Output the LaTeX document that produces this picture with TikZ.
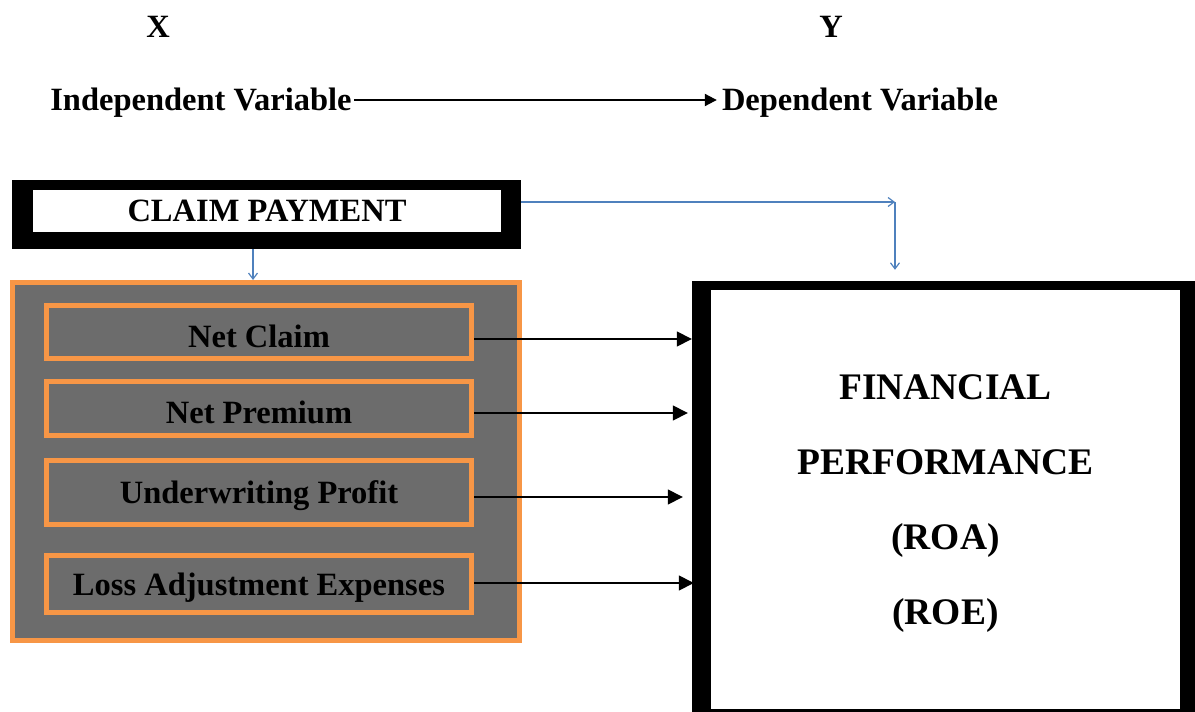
\documentclass[tikz,border=0pt]{standalone}
\usepackage{fontspec}
\setmainfont{Liberation Serif}
\usetikzlibrary{arrows.meta}
\usetikzlibrary{positioning}

\definecolor{boxgray}{RGB}{108,108,108}
\definecolor{boxorange}{RGB}{247,150,70}
\definecolor{linkblue}{RGB}{79,129,189}

\tikzset{
	lbl/.style={font=\fontsize{32.5}{32.5}\selectfont\bfseries, inner sep=0pt, text height=21.5pt, text depth=0pt},
	varbox/.style={lbl, draw=boxorange, line width=5pt, fill=boxgray, minimum width=425pt},
	blackbox/.style={fill=black, inner sep=0pt},
	whitebox/.style={fill=white, inner sep=0pt},
	blkarrow/.style={-{Triangle[length=15pt,width=15pt]}, line width=1.5pt},
	bluearrow/.style={-{Straight Barb[length=6pt,width=9pt]}, line width=1.2pt, linkblue}
}

\begin{document}
\begin{tikzpicture}[x=1pt, y=-1pt]
	\clip (0,0) rectangle (1195,712);
	
	%top labels
	\node[lbl] (xlbl) at (158,27) {X};
	\node[lbl] (ylbl) at (831,27) {Y};
	\node[lbl] (indep) at (201,100) {Independent Variable};
	\node[lbl] (dep) at (860,100) {Dependent Variable};
	\draw[-{Triangle[length=12pt,width=12pt]}, line width=2pt, shorten <=2pt, shorten >=5pt] (indep) -- (dep);
	
	%claim payment box
	\node[blackbox, minimum width=509pt, minimum height=69pt] (claim) at (266.5,214.5) {};
	\node[whitebox, lbl, minimum width=468pt, minimum height=42pt] (claimtxt) at (267,211) {CLAIM PAYMENT};
	
	%grey frame with the variables
	\node[draw=boxorange, line width=5pt, fill=boxgray, minimum width=507pt, minimum height=358pt] (frame) at (266,461.5) {};
	\node[varbox, minimum height=53pt, text height=31.5pt] (nc) at (259,332) {Net Claim};
	\node[varbox, minimum height=54pt, text height=30.5pt] (np) at (259,408.5) {Net Premium};
	\node[varbox, minimum height=64pt] (up) at (259,492.5) {Underwriting Profit};
	\node[varbox, minimum height=57pt, text height=23.5pt] (lae) at (259,584) {Loss Adjustment Expenses};
	
	%financial performance box
	\node[blackbox, minimum width=518pt, minimum height=440pt] (fin) at (951,501) {};
	\node[whitebox, minimum width=469pt, minimum height=419pt, align=center, text depth=0pt,
		font=\fontsize{37.5}{75}\selectfont\bfseries] (fintxt) at (945.5,499.5)
		{FINANCIAL\\PERFORMANCE\\(ROA)\\(ROE)};
	
	%arrows
	\coordinate (bend) at (895,202);
	\draw[bluearrow] ([yshift=12.5pt]claim.east) -- (bend);
	\draw[bluearrow, shorten >=11pt] (bend) -- (bend |- fin.north);
	\draw[bluearrow] ([xshift=-13.5pt]claim.south) -- ([xshift=-13pt]frame.north);
	
	\draw[blkarrow] ([yshift=-7pt]nc.east) -- ([yshift=-7pt]nc.east -| fin.west);
	\draw[blkarrow, shorten >=4pt] ([yshift=-4.5pt]np.east) -- ([yshift=-4.5pt]np.east -| fin.west);
	\draw[blkarrow, shorten >=9pt] ([yshift=-4.5pt]up.east) -- ([yshift=-4.5pt]up.east -| fin.west);
	\draw[blkarrow, shorten >=-2pt] ([yshift=1pt]lae.east) -- ([yshift=1pt]lae.east -| fin.west);
	
\end{tikzpicture}
\end{document}
